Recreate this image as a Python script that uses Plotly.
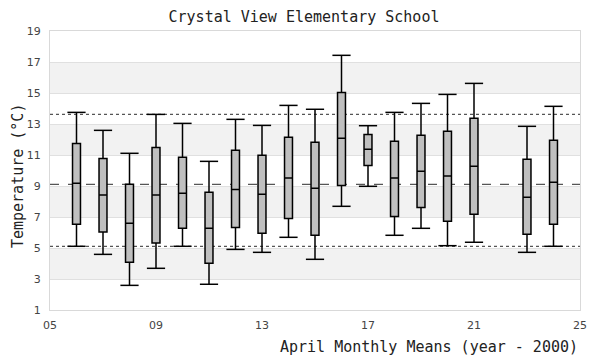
import plotly.graph_objects as go

years = [6, 7, 8, 9, 10, 11, 12, 13, 14, 15, 16, 17, 18, 19, 20, 21, 23, 24]
whisker_low = [5.11, 4.59, 2.59, 3.69, 5.11, 2.66, 4.91, 4.72, 5.69, 4.27, 7.69, 8.98, 5.82, 6.27, 5.15, 5.37, 4.72, 5.11]
q1 = [6.53, 6.03, 4.08, 5.32, 6.27, 4.01, 6.33, 5.95, 6.91, 5.82, 9.04, 10.33, 7.04, 7.62, 6.72, 7.17, 5.88, 6.53]
median = [9.17, 8.42, 6.59, 8.42, 8.53, 6.27, 8.78, 8.46, 9.52, 8.85, 12.08, 11.37, 9.52, 9.95, 9.65, 10.27, 8.27, 9.24]
q3 = [11.75, 10.78, 9.11, 11.49, 10.85, 8.59, 11.30, 10.98, 12.14, 11.82, 15.04, 12.33, 11.88, 12.27, 12.53, 13.37, 10.72, 11.95]
whisker_high = [13.75, 12.59, 11.11, 13.62, 13.04, 10.59, 13.30, 12.91, 14.20, 13.95, 17.43, 12.89, 13.75, 14.33, 14.91, 15.62, 12.85, 14.14]

ref_upper = 13.62
ref_mean = 9.11
ref_lower = 5.11

x_ticks = [5, 9, 13, 17, 21, 25]
x_tick_labels = ["05", "09", "13", "17", "21", "25"]
y_ticks = [1, 3, 5, 7, 9, 11, 13, 15, 17, 19]
band_ranges = [(3, 5), (7, 9), (11, 13), (15, 17)]

MONO = "DejaVu Sans Mono"

# page body has an 8px default margin; figure is sized to fit the 600x360 window
W, H = 592, 352
ML, MR, MT, MB = 42, 20, 23, 50
plot_w = W - ML - MR
plot_h = H - MT - MB

fig = go.Figure()

for lo, hi in band_ranges:
    fig.add_shape(type="rect", xref="paper", x0=0, x1=1, yref="y", y0=lo, y1=hi,
                  fillcolor="#f2f2f2", line_width=0, layer="below")

fig.add_trace(go.Box(
    x=years, q1=q1, median=median, q3=q3,
    lowerfence=whisker_low, upperfence=whisker_high,
    width=0.3, whiskerwidth=0,
    fillcolor="#bfbfbf", line=dict(color="black", width=1.5),
    boxpoints=False, hoverinfo="skip", showlegend=False,
))

fig.add_trace(go.Scatter(
    x=years + years, y=whisker_low + whisker_high, mode="markers",
    marker=dict(symbol="line-ew", size=13, line=dict(color="black", width=1.5)),
    hoverinfo="skip", showlegend=False,
))

for val, dash in [(ref_upper, "dot"), (ref_mean, "dash"), (ref_lower, "dot")]:
    fig.add_shape(type="line", xref="paper", x0=0, x1=1, yref="y", y0=val, y1=val,
                  line=dict(color="#555555", width=1.2, dash=dash), layer="below")

fig.update_layout(
    width=W, height=H,
    margin=dict(l=ML, r=MR, t=MT, b=MB),
    paper_bgcolor="white", plot_bgcolor="white",
    title=dict(text="Crystal View Elementary School", x=0.5, xanchor="center",
               y=1, yref="container", yanchor="top", pad=dict(t=3),
               font=dict(family=MONO, size=15, color="#222222")),
    xaxis=dict(range=[5, 25], tickvals=x_ticks, ticktext=x_tick_labels,
               showgrid=False, zeroline=False, showline=True, mirror=True,
               linecolor="#d9d9d9", linewidth=1, ticks="", ticklabelstandoff=5,
               tickfont=dict(family="DejaVu Sans", size=11, color="#444444")),
    yaxis=dict(range=[1, 19], tickvals=y_ticks, showgrid=True, gridcolor="#e0e0e0",
               gridwidth=1, zeroline=False, showline=True, mirror=True,
               linecolor="#d9d9d9", linewidth=1, ticks="", ticklabelstandoff=6,
               tickfont=dict(family="DejaVu Sans", size=11, color="#444444")),
    annotations=[
        dict(text="April Monthly Means (year - 2000)", xref="paper", yref="paper",
             x=1, y=-37 / plot_h, xanchor="right", yanchor="middle", showarrow=False,
             font=dict(family=MONO, size=15, color="#222222")),
        dict(text="Temperature (°C)", xref="paper", yref="paper",
             x=-32 / plot_w, y=0.48, xanchor="center", yanchor="middle", textangle=-90,
             showarrow=False, font=dict(family=MONO, size=15, color="#222222")),
    ],
)

fig.write_html("out.html")
